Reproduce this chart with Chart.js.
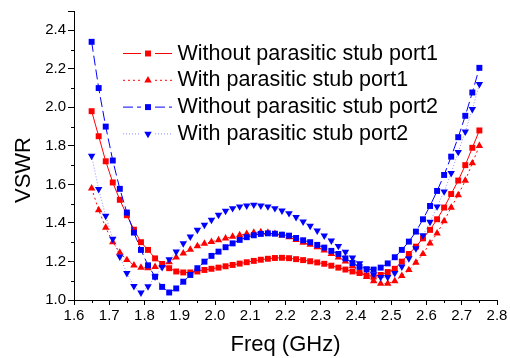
<!DOCTYPE html>
<html>
<head>
<meta charset="utf-8">
<title>VSWR</title>
<script src="https://cdn.jsdelivr.net/npm/chart.js@4.4.0/dist/chart.umd.min.js"></script>
<style>
  html, body { margin: 0; padding: 0; background: #fff; }
  #wrap { width: 510px; height: 358px; }
</style>
</head>
<body>
<div id="wrap"><canvas id="myChart" width="510" height="358"></canvas></div>
<script>
// frequency points (GHz)
var freq = [1.65, 1.67, 1.69, 1.71, 1.73, 1.75, 1.77, 1.79, 1.81, 1.83,
            1.85, 1.87, 1.89, 1.91, 1.93, 1.95, 1.97, 1.99, 2.01, 2.03,
            2.05, 2.07, 2.09, 2.11, 2.13, 2.15, 2.17, 2.19, 2.21, 2.23,
            2.25, 2.27, 2.29, 2.31, 2.33, 2.35, 2.37, 2.39, 2.41, 2.43,
            2.45, 2.47, 2.49, 2.51, 2.53, 2.55, 2.57, 2.59, 2.61, 2.63,
            2.65, 2.67, 2.69, 2.71, 2.73, 2.75];

var withoutPort1 = [1.98, 1.85, 1.72, 1.61, 1.52, 1.44, 1.365, 1.30, 1.26, 1.216,
                    1.187, 1.165, 1.148, 1.143, 1.143, 1.148, 1.156, 1.162, 1.168, 1.175,
                    1.182, 1.189, 1.196, 1.203, 1.209, 1.214, 1.218, 1.219, 1.217, 1.212,
                    1.207, 1.201, 1.195, 1.188, 1.178, 1.168, 1.158, 1.148, 1.14, 1.128,
                    1.122, 1.13, 1.145, 1.162, 1.199, 1.239, 1.277, 1.32, 1.364, 1.419,
                    1.48, 1.55, 1.62, 1.70, 1.79, 1.88];

var withPort1 = [1.58, 1.467, 1.376, 1.30, 1.246, 1.208, 1.18, 1.168, 1.165, 1.172,
                 1.18, 1.197, 1.222, 1.242, 1.262, 1.28, 1.293, 1.302, 1.311, 1.32,
                 1.329, 1.337, 1.344, 1.35, 1.353, 1.35, 1.343, 1.335, 1.326, 1.312,
                 1.298, 1.287, 1.274, 1.258, 1.24, 1.222, 1.20, 1.177, 1.148, 1.12,
                 1.098, 1.085, 1.085, 1.098, 1.125, 1.156, 1.194, 1.239, 1.294, 1.346,
                 1.41, 1.48, 1.545, 1.62, 1.71, 1.80];

var withoutPort2 = [2.34, 2.10, 1.90, 1.724, 1.577, 1.454, 1.35, 1.26, 1.18, 1.121,
                    1.068, 1.039, 1.06, 1.095, 1.13, 1.165, 1.199, 1.229, 1.251, 1.274,
                    1.294, 1.312, 1.326, 1.336, 1.343, 1.346, 1.344, 1.339, 1.334, 1.322,
                    1.31, 1.30, 1.286, 1.272, 1.255, 1.239, 1.216, 1.192, 1.172, 1.16,
                    1.158, 1.168, 1.19, 1.222, 1.26, 1.303, 1.355, 1.419, 1.488, 1.566,
                    1.649, 1.744, 1.845, 1.956, 2.077, 2.205];

var withPort2 = [1.748, 1.575, 1.436, 1.317, 1.225, 1.139, 1.072, 1.038, 1.07, 1.121,
                 1.17, 1.211, 1.251, 1.294, 1.329, 1.364, 1.39, 1.416, 1.442, 1.462,
                 1.476, 1.485, 1.49, 1.494, 1.49, 1.485, 1.476, 1.464, 1.45, 1.43,
                 1.407, 1.384, 1.36, 1.334, 1.308, 1.28, 1.25, 1.22, 1.19, 1.16,
                 1.133, 1.118, 1.118, 1.14, 1.173, 1.216, 1.268, 1.335, 1.405, 1.485,
                 1.563, 1.658, 1.768, 1.874, 1.99, 2.12];

var seriesNames = ['Without parasitic stub port1', 'With parasitic stub port1',
                   'Without parasitic stub port2', 'With parasitic stub port2'];

var xTickLabels = ['1.6', '1.7', '1.8', '1.9', '2.0', '2.1', '2.2', '2.3', '2.4', '2.5', '2.6', '2.7', '2.8'];
var yTickLabels = ['1.0', '1.2', '1.4', '1.6', '1.8', '2.0', '2.2', '2.4'];
var xMinorTicks = [1.65, 1.75, 1.85, 1.95, 2.05, 2.15, 2.25, 2.35, 2.45, 2.55, 2.65, 2.75];
var yMinorTicks = [1.1, 1.3, 1.5, 1.7, 1.9, 2.1, 2.3, 2.5];

var FONT = '"Liberation Sans", Arial, sans-serif';

function toPoints(values) {
    return values.map(function (v, i) { return { x: freq[i], y: v }; });
}

function findLabel(list, value) {
    for (var i = 0; i < list.length; i++) {
        if (Math.abs(parseFloat(list[i]) - value) < 1e-6) return list[i];
    }
    return '';
}

// small outward minor ticks on both axes
var minorTicks = {
    id: 'minorTicks',
    afterDraw: function (chart) {
        var ctx = chart.ctx, xs = chart.scales.x, ys = chart.scales.y;
        ctx.save();
        ctx.strokeStyle = '#000';
        ctx.lineWidth = 1;
        ctx.beginPath();
        xMinorTicks.forEach(function (v) {
            var px = Math.round(xs.getPixelForValue(v)) + 0.5;
            ctx.moveTo(px, ys.bottom);
            ctx.lineTo(px, ys.bottom + 3);
        });
        yMinorTicks.forEach(function (v) {
            var py = Math.round(ys.getPixelForValue(v)) + 0.5;
            ctx.moveTo(xs.left - 3, py);
            ctx.lineTo(xs.left, py);
        });
        ctx.stroke();
        ctx.restore();
    }
};

function drawMarker(ctx, style, rotation, r, x, y) {
    ctx.beginPath();
    if (style === 'rect') {
        var s = Math.SQRT1_2 * r;
        ctx.rect(x - s, y - s, 2 * s, 2 * s);
    } else {
        var rad = rotation * Math.PI / 180;
        ctx.moveTo(x + Math.sin(rad) * r, y - Math.cos(rad) * r);
        rad += 2 * Math.PI / 3;
        ctx.lineTo(x + Math.sin(rad) * r, y - Math.cos(rad) * r);
        rad += 2 * Math.PI / 3;
        ctx.lineTo(x + Math.sin(rad) * r, y - Math.cos(rad) * r);
        ctx.closePath();
    }
    ctx.fill();
}

// legend drawn inside the plot, Origin style: line - marker - line, then text
var insideLegend = {
    id: 'insideLegend',
    afterDraw: function (chart, args, opts) {
        var ctx = chart.ctx;
        chart.data.datasets.forEach(function (ds, i) {
            var yRow = opts.top + i * opts.rowGap;
            ctx.save();
            ctx.strokeStyle = ds.borderColor;
            ctx.lineWidth = ds.borderWidth;
            ctx.setLineDash(ds.borderDash || []);
            ctx.beginPath();
            ctx.moveTo(opts.lineStart, yRow + 0.5);
            ctx.lineTo(opts.markerX - 7, yRow + 0.5);
            ctx.moveTo(opts.markerX + 7, yRow + 0.5);
            ctx.lineTo(opts.lineEnd, yRow + 0.5);
            ctx.stroke();
            ctx.setLineDash([]);
            ctx.fillStyle = ds.pointBackgroundColor;
            drawMarker(ctx, ds.pointStyle, ds.pointRotation || 0, ds.pointRadius, opts.markerX, yRow + 0.5);
            ctx.fillStyle = '#000';
            ctx.font = opts.fontSize + 'px ' + FONT;
            ctx.textBaseline = 'alphabetic';
            ctx.textAlign = 'left';
            ctx.fillText(ds.label, opts.textX, yRow + 6.5);
            ctx.restore();
        });
    }
};

// y axis title, placed like the original
var yTitle = {
    id: 'yTitle',
    afterDraw: function (chart, args, opts) {
        var ctx = chart.ctx;
        ctx.save();
        ctx.translate(opts.x, opts.y);
        ctx.rotate(-Math.PI / 2);
        ctx.fillStyle = '#000';
        ctx.font = '22px ' + FONT;
        ctx.textAlign = 'center';
        ctx.textBaseline = 'middle';
        ctx.fillText(opts.text, 0, 0);
        ctx.restore();
    }
};

var ctx = document.getElementById('myChart').getContext('2d');

var myChart = new Chart(ctx, {
    type: 'line',
    data: {
        datasets: [{
            label: seriesNames[0],
            data: toPoints(withoutPort1),
            borderColor: '#ff0000',
            borderWidth: 1,
            pointStyle: 'rect',
            pointRadius: 4.2,
            pointBackgroundColor: '#ff0000',
            pointBorderWidth: 0,
            order: 4
        }, {
            label: seriesNames[1],
            data: toPoints(withPort1),
            borderColor: '#ff0000',
            borderWidth: 1,
            borderDash: [2, 3],
            pointStyle: 'triangle',
            pointRadius: 4.3,
            pointBackgroundColor: '#ff0000',
            pointBorderWidth: 0,
            order: 3
        }, {
            label: seriesNames[2],
            data: toPoints(withoutPort2),
            borderColor: '#0000ff',
            borderWidth: 1,
            borderDash: [10, 4],
            pointStyle: 'rect',
            pointRadius: 4.2,
            pointBackgroundColor: '#0000ff',
            pointBorderWidth: 0,
            order: 2
        }, {
            label: seriesNames[3],
            data: toPoints(withPort2),
            borderColor: 'rgba(0,0,255,0.45)',
            borderWidth: 1,
            borderDash: [1, 2],
            pointStyle: 'triangle',
            pointRotation: 180,
            pointRadius: 4.3,
            pointBackgroundColor: '#0000ff',
            pointBorderWidth: 0,
            order: 1
        }]
    },
    options: {
        responsive: false,
        animation: false,
        layout: { padding: { top: 11, right: 13, left: 0, bottom: 0 } },
        elements: { line: { tension: 0 } },
        plugins: {
            legend: { display: false },
            tooltip: { enabled: false },
            insideLegend: { top: 53, rowGap: 26.8, lineStart: 123, lineEnd: 172, markerX: 148, textX: 177.5, fontSize: 21.5 },
            yTitle: { text: 'VSWR', x: 23.5, y: 170 }
        },
        scales: {
            x: {
                type: 'linear',
                min: 1.6,
                max: 2.8,
                bounds: 'data',
                ticks: {
                    stepSize: 0.1,
                    autoSkip: false,
                    maxRotation: 0,
                    color: '#000',
                    padding: 2,
                    font: { family: FONT, size: 15 },
                    callback: function (value) { return findLabel(xTickLabels, value); }
                },
                grid: { drawOnChartArea: false, drawTicks: true, tickLength: 5, color: '#000', lineWidth: 1 },
                border: { color: '#000', width: 1 },
                title: { display: true, text: 'Freq (GHz)', color: '#000', padding: 0, font: { family: FONT, size: 22 } },
                afterFit: function (scale) { scale.height = 58; }
            },
            y: {
                type: 'linear',
                min: 1.0,
                max: 2.5,
                bounds: 'data',
                ticks: {
                    stepSize: 0.2,
                    includeBounds: false,
                    autoSkip: false,
                    color: '#000',
                    padding: 2,
                    font: { family: FONT, size: 15 },
                    callback: function (value) { return findLabel(yTickLabels, value); }
                },
                grid: { drawOnChartArea: false, drawTicks: true, tickLength: 6, color: '#000', lineWidth: 1 },
                border: { color: '#000', width: 1 },
                title: { display: false },
                afterFit: function (scale) { scale.width = 74; }
            }
        }
    },
    plugins: [minorTicks, insideLegend, yTitle]
});
</script>
</body>
</html>
